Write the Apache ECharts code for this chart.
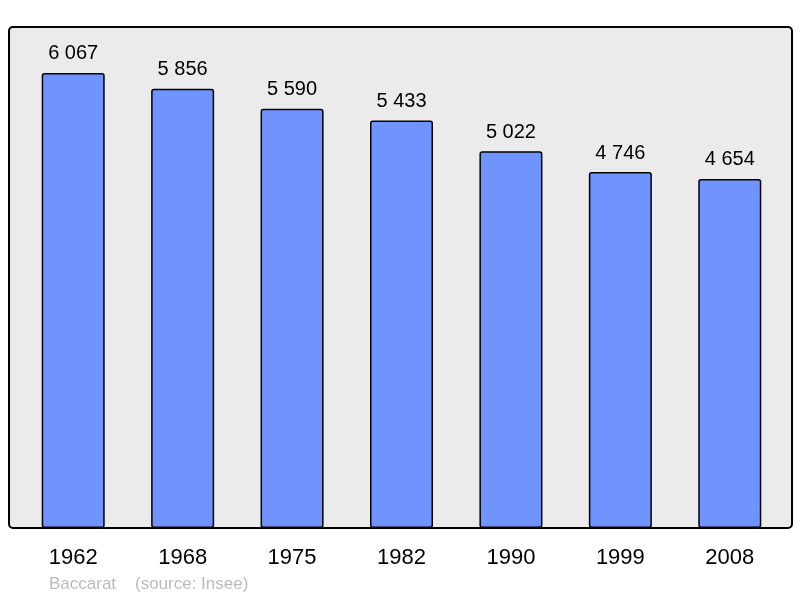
<!DOCTYPE html>
<html>
<head>
<meta charset="utf-8">
<script src="https://cdn.jsdelivr.net/npm/echarts@6/dist/echarts.min.js"></script>
<style>
  html, body { margin: 0; padding: 0; background: #fff; }
  #chart { width: 800px; height: 598px; }
</style>
</head>
<body>
<div id="chart"></div>
<script>
const years = ["1962", "1968", "1975", "1982", "1990", "1999", "2008"];
const population = [6067, 5856, 5590, 5433, 5022, 4746, 4654];

function fmt(n) {
  return String(n).replace(/\B(?=(\d{3})+(?!\d))/g, " ");
}

const chart = echarts.init(document.getElementById("chart"));
chart.setOption({
  animation: false,
  textStyle: { fontFamily: "Liberation Sans, Arial, sans-serif" },
  graphic: [
    {
      type: "rect",
      z: -10,
      shape: { x: 9, y: 27, width: 783, height: 501, r: 4 },
      style: { fill: "#ebebeb", stroke: "#000", lineWidth: 2 }
    },
    {
      type: "text",
      left: 49,
      top: 576,
      style: {
        text: "Baccarat    (source: Insee)",
        fill: "#bbbbbb",
        font: "17px Liberation Sans, Arial, sans-serif"
      }
    }
  ],
  grid: { left: 18.5, right: 15.5, top: 27, bottom: 70 },
  xAxis: {
    type: "category",
    data: years,
    axisLine: { show: false },
    axisTick: { show: false },
    axisLabel: { color: "#000", fontSize: 22, margin: 19 }
  },
  yAxis: {
    type: "value",
    min: 0,
    max: 6680,
    show: false,
    splitLine: { show: false }
  },
  series: [
    {
      type: "bar",
      data: population,
      barWidth: 63,
      itemStyle: {
        color: "#7094ff",
        borderColor: "#000",
        borderWidth: 1.5,
        borderRadius: 2
      },
      label: {
        show: true,
        position: "top",
        distance: 9,
        color: "#000",
        fontSize: 20,
        formatter: p => fmt(p.value)
      }
    }
  ]
});
</script>
</body>
</html>
